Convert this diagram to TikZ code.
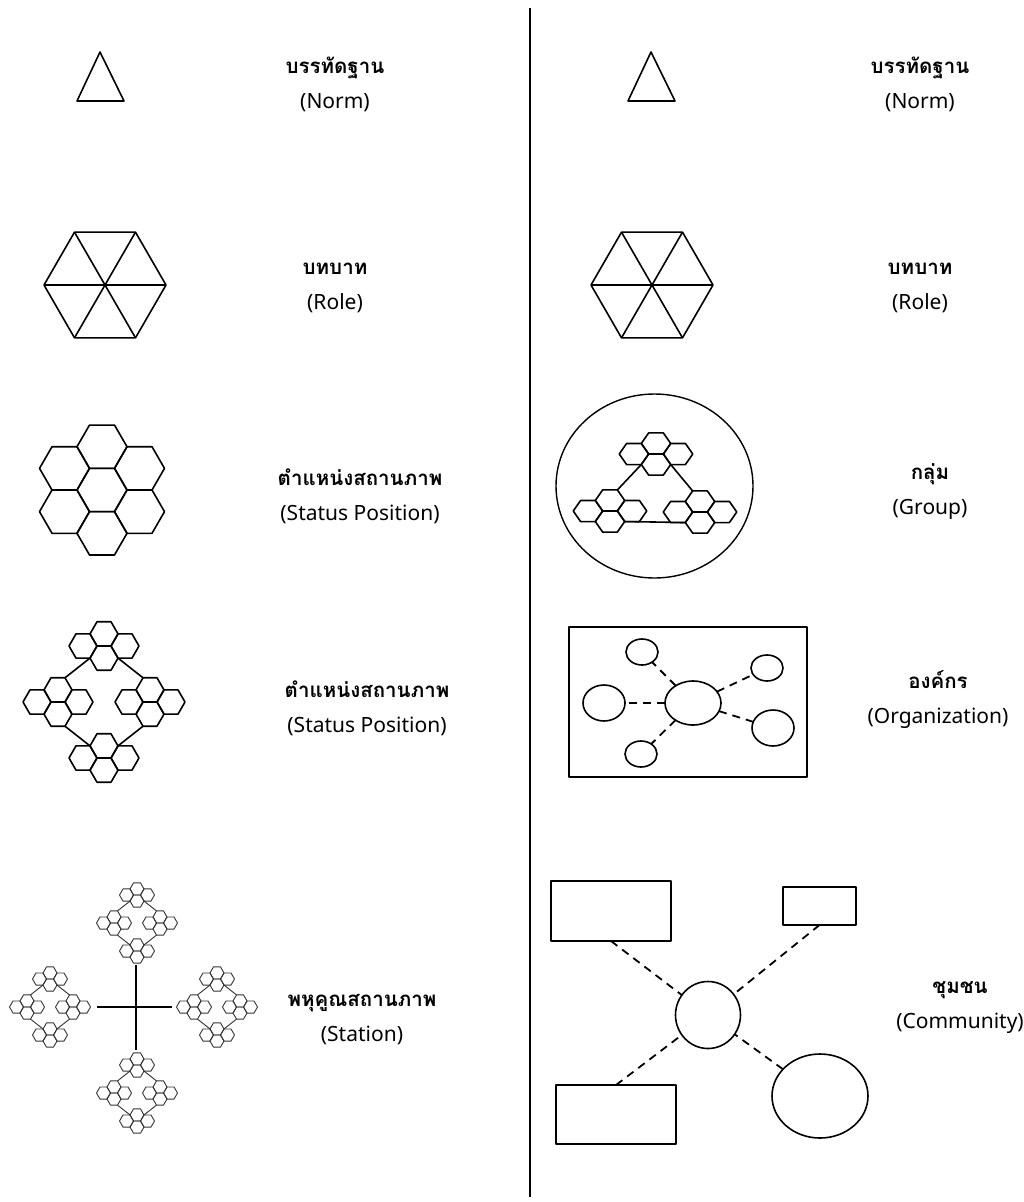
\documentclass[tikz,border=0pt]{standalone}
\usepackage{fontspec}
\setmainfont[Script=Thai]{Loma}
\newfontfamily\latinfont{Noto Sans}
\usetikzlibrary{shapes.geometric}

\tikzset{
	figline/.style={line width=1.6pt, line join=round},
	dashlink/.style={line width=1.8pt, dash pattern=on 8pt off 6pt},
	caption/.style={align=center, font=\fontsize{20.5}{35}\selectfont\bfseries},
	oval/.style={draw, ellipse, line width=1.6pt, inner sep=0pt, outer sep=0pt},
	box/.style={draw, rectangle, line width=1.6pt, inner sep=0pt, outer sep=0pt},
}

% English second line of a caption
\newcommand{\en}[1]{{\latinfont\mdseries\fontsize{21}{35}\selectfont #1}}

% one flat-topped hexagon: centre, radius
\newcommand{\hexcell}[2]{%
	\draw (#1) +(0:#2) -- +(60:#2) -- +(120:#2) -- +(180:#2) -- +(240:#2) -- +(300:#2) -- cycle;}

% four hexagons round the origin, with corner coordinates
\newcommand{\hexquad}[1]{%
	\hexcell{0,-12.1}{14} \hexcell{-21,0}{14} \hexcell{21,0}{14} \hexcell{0,12.1}{14}
	\coordinate (#1-nw) at (-7,-24.2); \coordinate (#1-ne) at (7,-24.2);
	\coordinate (#1-sw) at (-14,12.1); \coordinate (#1-se) at (14,12.1);
	\coordinate (#1-ssw) at (-7,24.2); \coordinate (#1-sse) at (7,24.2);
	\coordinate (#1-wn) at (-14,-12.1); \coordinate (#1-en) at (14,-12.1);}

% four quads on a diamond round the origin
\newcommand{\hexdiamond}[1]{%
	\begin{scope}[shift={(0,-56)}] \hexquad{#1t} \end{scope}
	\begin{scope}[shift={(-46,0)}] \hexquad{#1l} \end{scope}
	\begin{scope}[shift={(46,0)}] \hexquad{#1r} \end{scope}
	\begin{scope}[shift={(0,56)}] \hexquad{#1b} \end{scope}
	\draw (#1t-sw) -- (#1l-ne);
	\draw (#1t-se) -- (#1r-nw);
	\draw (#1l-sse) -- (#1b-wn);
	\draw (#1r-ssw) -- (#1b-en);}

\begin{document}
\begin{tikzpicture}[x=1pt, y=-1pt, figline]
		\useasboundingbox (0,0) rectangle (1024,1202);
		% divider
		\coordinate (divtop) at (530,8);
		\coordinate (divbot) at (530,1197);
		\draw[line width=1.8pt] (divtop) -- (divbot);
		% Norm
		\draw (100,52) -- (124,101) -- (77,101) -- cycle;
		\draw (651,52) -- (675,101) -- (628,101) -- cycle;
		\node[caption] (normL) at (335,84) {บรรทัดฐาน\\\en{(Norm)}};
		\node[caption] (normR) at (920,84) {บรรทัดฐาน\\\en{(Norm)}};
		% Role
		\foreach \cx in {105,652} {
			\hexcell{\cx,285}{61}
			\foreach \a in {0,60,120}
				\draw (\cx,285) +(\a:61) -- +(\a+180:61);
		}
		\node[caption] (roleL) at (335,288) {บทบาท\\\en{(Role)}};
		\node[caption] (roleR) at (920,288) {บทบาท\\\en{(Role)}};
		% Status position
		\begin{scope}[shift={(102,490)}]
			\hexcell{0,0}{25}
			\foreach \a in {30,90,...,330}
				{\hexcell{\a:43.3}{25}}
		\end{scope}
		\node[caption] (statusA) at (360,496) {ตำแหน่งสถานภาพ\\\en{(Status Position)}};
		% Status position, diamond
		\begin{scope}[shift={(104,702)}]
			\hexdiamond{sp}
		\end{scope}
		\node[caption] (statusB) at (367,708) {ตำแหน่งสถานภาพ\\\en{(Status Position)}};
		% Station
		\begin{scope}[line width=0.9pt, draw=black!80]
			\begin{scope}[shift={(137,923)}, scale=0.5] \hexdiamond{sn} \end{scope}
			\begin{scope}[shift={(50,1007)}, scale=0.5] \hexdiamond{sw} \end{scope}
			\begin{scope}[shift={(217,1007)}, scale=0.5] \hexdiamond{se} \end{scope}
			\begin{scope}[shift={(137,1093)}, scale=0.5] \hexdiamond{ss} \end{scope}
		\end{scope}
		\coordinate (crossN) at (136,965);
		\coordinate (crossS) at (136,1050);
		\coordinate (crossW) at (97,1007);
		\coordinate (crossE) at (172,1007);
		\draw (crossN) -- (crossS);
		\draw (crossW) -- (crossE);
		\node[caption] (station) at (362,1020) {พหุคูณสถานภาพ\\\en{(Station)}};
		% Group
		\draw[line width=1.4pt] (654.5,486) ellipse [x radius=98.5, y radius=92];
		\begin{scope}[shift={(656,454)}, xscale=1.05, yscale=0.87] \hexquad{gt} \end{scope}
		\begin{scope}[shift={(610,511)}, xscale=1.05, yscale=0.87] \hexquad{gl} \end{scope}
		\begin{scope}[shift={(700,512)}, xscale=1.05, yscale=0.87] \hexquad{gr} \end{scope}
		\draw (gt-sw) -- (gl-ne);
		\draw (gt-se) -- (gr-nw);
		\draw (gl-se) -- (gr-sw);
		\node[caption] (group) at (930,492) {กลุ่ม\\\en{(Group)}};
		% Organization
		\node[box, minimum width=238pt, minimum height=150pt] (org) at (688,702) {};
		\node[oval, minimum width=56pt, minimum height=44pt] (core) at (693,703) {};
		\node[oval, minimum width=32pt, minimum height=26pt] (o1) at (642,652) {};
		\node[oval, minimum width=42pt, minimum height=36pt] (o2) at (604,703) {};
		\node[oval, minimum width=32pt, minimum height=26pt] (o3) at (641,754) {};
		\node[oval, minimum width=32pt, minimum height=26pt] (o4) at (767,668) {};
		\node[oval, minimum width=42pt, minimum height=36pt] (o5) at (773,728) {};
		\foreach \n in {o1,o2,o3,o4,o5}
			\draw[dashlink] (core) -- (\n);
		\node[caption] (orga) at (938,700) {องค์กร\\\en{(Organization)}};
		% Community
		\node[box, minimum width=120pt, minimum height=60pt] (tl) at (611,911) {};
		\node[box, minimum width=73pt, minimum height=38pt] (tr) at (819.5,906) {};
		\node[box, minimum width=120pt, minimum height=59pt] (bl) at (616,1114.5) {};
		\node[oval, minimum width=65pt, minimum height=67pt] (hub) at (708,1015) {};
		\node[oval, minimum width=96pt, minimum height=84pt] (br) at (820,1096) {};
		\draw[dashlink] (tl.south) -- (hub);
		\draw[dashlink] (tr.south) -- (hub);
		\draw[dashlink] (bl.north) -- (hub);
		\draw[dashlink] (br) -- (hub);
		\node[caption] (community) at (960,1008) {ชุมชน\\\en{(Community)}};
\end{tikzpicture}
\end{document}
